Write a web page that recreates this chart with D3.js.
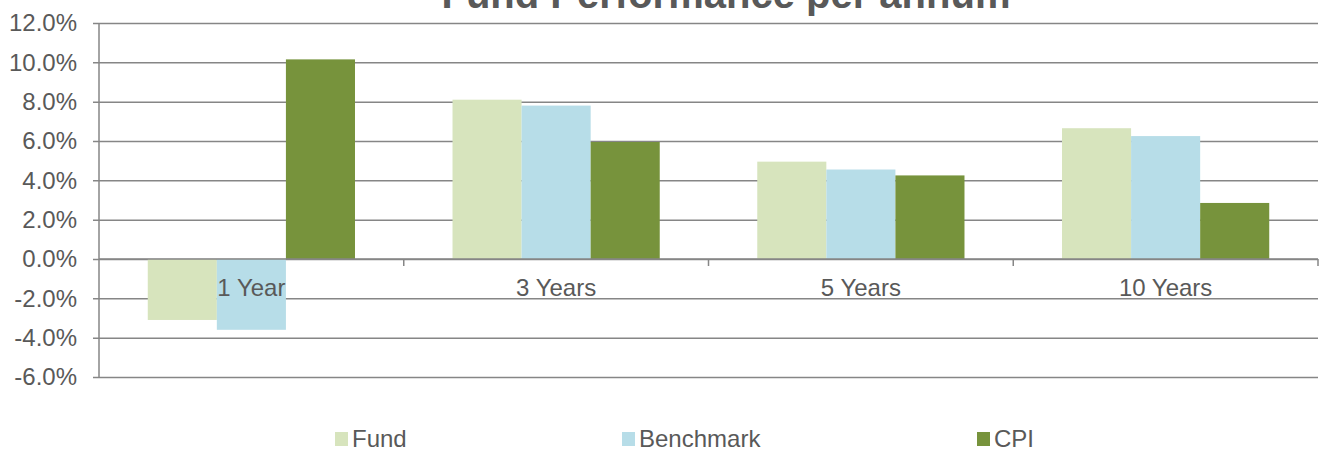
<!DOCTYPE html>
<html>
<head>
<meta charset="utf-8">
<script src="https://cdn.jsdelivr.net/npm/d3@7"></script>
<style>
  body { margin: 0; background: #fff; }
  svg text { font-family: Arial, "Liberation Sans", sans-serif; fill: #595959; }
</style>
</head>
<body>
<div id="chart"></div>
<script>
// chart data
var categories = ["1 Year", "3 Years", "5 Years", "10 Years"];
var series_names = ["Fund", "Benchmark", "CPI"];
var fund_values = [-3.1, 8.1, 4.95, 6.65];
var benchmark_values = [-3.6, 7.8, 4.55, 6.25];
var cpi_values = [10.15, 5.95, 4.25, 2.85];
var y_ticks = [12, 10, 8, 6, 4, 2, 0, -2, -4, -6];

var series_values = [fund_values, benchmark_values, cpi_values];
var series_colors = ["#d7e4bd", "#b7dde8", "#77933c"];

var width = 1324, height = 450;
var bounds = { left: 99, right: 1318, top: 23, bottom: 377 };

var svg_root = d3.select("#chart").append("svg")
    .attr("width", width)
    .attr("height", height);

var y = d3.scaleLinear()
    .domain([-6, 12])
    .range([bounds.bottom, bounds.top]);

var x0 = d3.scaleBand()
    .domain(categories)
    .range([bounds.left, bounds.right])
    .padding(0);

var bw = x0.bandwidth();
var x1 = d3.scaleBand()
    .domain(series_names)
    .range([bw * 0.16, bw * 0.84])
    .padding(0);

// Title (clipped at top like the original)
svg_root.append("text")
    .attr("x", 726)
    .attr("y", 8)
    .attr("text-anchor", "middle")
    .attr("font-size", 40)
    .attr("font-weight", "bold")
    .text("Fund Performance per annum");

// Gridlines + y labels via axis
var y_axis = d3.axisLeft(y)
    .tickValues(y_ticks)
    .tickSize(-(bounds.right - bounds.left) - 6)
    .tickPadding(16)
    .tickFormat(function(d) { return d.toFixed(1) + "%"; });

var y_group = svg_root.append("g")
    .attr("transform", "translate(" + bounds.left + ",0)")
    .call(y_axis);

y_group.select(".domain").remove();
y_group.selectAll(".tick line")
    .attr("x1", bounds.right - bounds.left)
    .attr("x2", -6)
    .attr("stroke", "#868686")
    .attr("stroke-width", 1.5);
y_group.selectAll(".tick text")
    .attr("x", -22)
    .attr("font-size", 24)
    .attr("fill", "#595959")
    .style("font-family", "Arial, 'Liberation Sans', sans-serif");

// Bars
var cat_groups = svg_root.selectAll("g.cat")
    .data(categories)
    .enter().append("g")
    .attr("class", "cat")
    .attr("transform", function(d) { return "translate(" + x0(d) + ",0)"; });

cat_groups.selectAll("rect")
    .data(function(d, i) {
        return series_names.map(function(s, j) {
            return { series: s, value: series_values[j][i], color: series_colors[j] };
        });
    })
    .enter().append("rect")
    .attr("x", function(d) { return x1(d.series); })
    .attr("width", x1.bandwidth())
    .attr("y", function(d) { return y(Math.max(0, d.value)); })
    .attr("height", function(d) { return Math.abs(y(d.value) - y(0)); })
    .attr("fill", function(d) { return d.color; });

// Vertical axis line
svg_root.append("line")
    .attr("x1", bounds.left).attr("x2", bounds.left)
    .attr("y1", bounds.top).attr("y2", bounds.bottom)
    .attr("stroke", "#868686")
    .attr("stroke-width", 1.5);

// Category axis at zero
svg_root.append("line")
    .attr("x1", bounds.left).attr("x2", bounds.right)
    .attr("y1", y(0)).attr("y2", y(0))
    .attr("stroke", "#868686")
    .attr("stroke-width", 1.5);

svg_root.selectAll("line.cat-tick")
    .data(categories)
    .enter().append("line")
    .attr("class", "cat-tick")
    .attr("x1", function(d) { return x0(d) + bw; })
    .attr("x2", function(d) { return x0(d) + bw; })
    .attr("y1", y(0))
    .attr("y2", y(0) + 7)
    .attr("stroke", "#868686")
    .attr("stroke-width", 1.5);

svg_root.selectAll("text.cat-label")
    .data(categories)
    .enter().append("text")
    .attr("class", "cat-label")
    .attr("x", function(d) { return x0(d) + bw / 2; })
    .attr("y", y(0) + 37)
    .attr("text-anchor", "middle")
    .attr("font-size", 24)
    .text(function(d) { return d; });

// Legend
var legend_x = [335, 622, 977];
var legend = svg_root.selectAll("g.legend")
    .data(series_names)
    .enter().append("g")
    .attr("class", "legend")
    .attr("transform", function(d, i) { return "translate(" + legend_x[i] + ",432)"; });

legend.append("rect")
    .attr("width", 13)
    .attr("height", 14)
    .attr("fill", function(d, i) { return series_colors[i]; });

legend.append("text")
    .attr("x", 17)
    .attr("y", 15)
    .attr("font-size", 24)
    .text(function(d) { return d; });
</script>
</body>
</html>
